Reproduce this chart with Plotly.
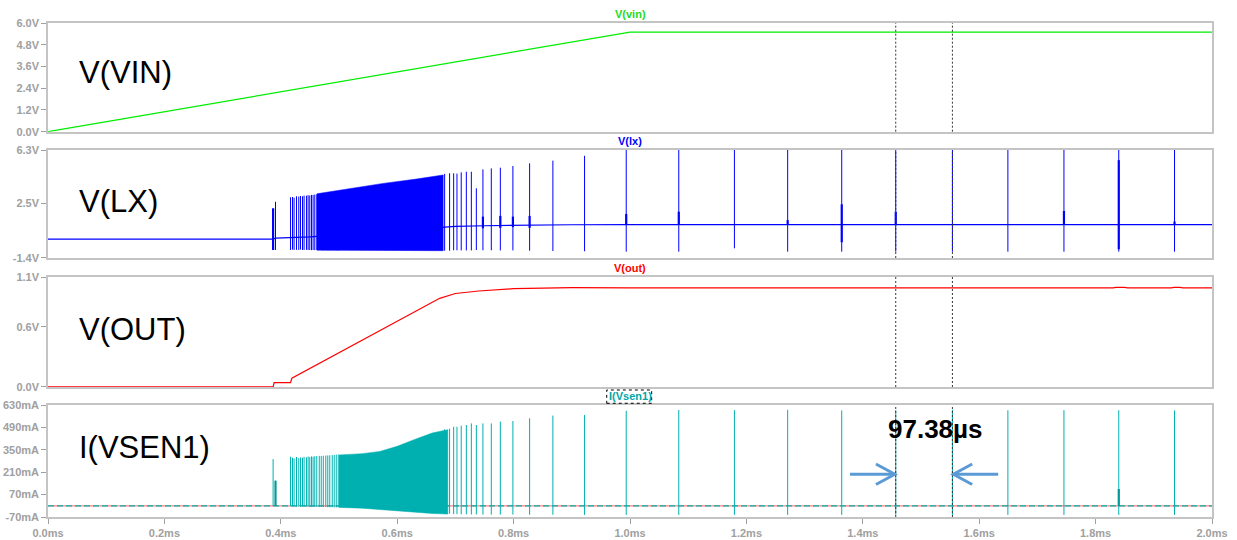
import plotly.graph_objects as go

# ---------------- time axis (ms) ----------------
x_tick_vals = [0.0, 0.2, 0.4, 0.6, 0.8, 1.0, 1.2, 1.4, 1.6, 1.8, 2.0]
x_tick_text = ["0.0ms", "0.2ms", "0.4ms", "0.6ms", "0.8ms", "1.0ms",
               "1.2ms", "1.4ms", "1.6ms", "1.8ms", "2.0ms"]

# ---------------- V(vin) ----------------
vin_t = [0.0, 1.0, 2.0]
vin_v = [0.0, 5.5, 5.5]
vin_ticks = [0.0, 1.2, 2.4, 3.6, 4.8, 6.0]
vin_tick_text = ["0.0V", "1.2V", "2.4V", "3.6V", "4.8V", "6.0V"]

# ---------------- V(out) ----------------
vout_t = [0.0, 0.3868, 0.3885, 0.4167, 0.4190, 0.673, 0.700, 0.740, 0.800,
          0.860, 0.900, 1.000, 1.100, 1.500, 1.830, 1.835, 1.850, 1.855,
          1.930, 1.935, 1.945, 1.950, 2.000]
vout_v = [0.0, 0.0, 0.043, 0.043, 0.087, 0.887, 0.935, 0.960, 0.983,
          0.987, 0.993, 0.992, 0.993, 0.992, 0.992, 0.996, 0.996, 0.992,
          0.992, 0.996, 0.996, 0.992, 0.992]
vout_ticks = [0.0, 0.6, 1.1]
vout_tick_text = ["0.0V", "0.6V", "1.1V"]

# ---------------- V(lx) ----------------
lx_base_t = [0.0, 0.3868, 0.3909, 0.4167, 0.45, 0.50, 0.60, 0.68, 0.70,
             0.75, 0.80, 0.90, 1.00, 2.00]
lx_base_v = [-0.05, -0.05, 0.02, 0.05, 0.10, 0.25, 0.55, 0.82, 0.85,
             0.90, 0.93, 0.97, 0.98, 0.98]
lx_ticks = [-1.4, 2.5, 6.3]
lx_tick_text = ["-1.4V", "2.5V", "6.3V"]

# ---------------- I(Vsen1) (mA) ----------------
isen_base_t = [0.0, 2.0]
isen_base_v = [0.0, 0.0]
isen_ticks = [-70, 70, 210, 350, 490, 630]
isen_tick_text = ["-70mA", "70mA", "210mA", "350mA", "490mA", "630mA"]

# ---------------- switching pulses ----------------
pulse_t = [0.3868, 0.3909,
           0.4167, 0.4201, 0.4228, 0.4270, 0.4309, 0.4338, 0.4373, 0.4400,
           0.4441, 0.4469, 0.4498, 0.4527, 0.4555, 0.4584, 0.4618, 0.4661,
           0.4695, 0.4730, 0.4773, 0.4807, 0.4841, 0.4884, 0.4918, 0.4953,
           0.4987,
           0.6815, 0.6900, 0.6970, 0.7027, 0.7100, 0.7188, 0.7274, 0.7360,
           0.7473, 0.7617, 0.7772, 0.7988, 0.8275, 0.8675, 0.9219, 0.9935,
           1.0838, 1.1794, 1.2709, 1.3638, 1.4566, 1.5540, 1.6493, 1.7456,
           1.8398, 1.9356]
lx_hi = [2.14, 2.61,
         2.93, 2.95, 2.90, 3.00, 2.98, 3.02, 3.00, 3.05, 3.04, 3.08, 3.06,
         3.10, 3.10, 3.12, 3.15, 3.17, 3.16, 3.20, 3.22, 3.24, 3.23, 3.27,
         3.28, 3.30, 3.32,
         4.60, 4.64, 4.64, 4.62, 4.71, 4.75, 4.75, 3.57, 4.92, 4.99, 5.04,
         5.16, 5.35, 5.54, 5.89, 6.30, 6.30, 6.30, 6.30, 6.30, 6.30, 6.30,
         6.30, 6.30, 6.30, 6.30]
lx_lo = [-0.83, -0.83,
         -0.83, -0.80, -0.83, -0.82, -0.83, -0.80, -0.83, -0.83, -0.82,
         -0.83, -0.83, -0.84, -0.83, -0.84, -0.84, -0.83, -0.84, -0.85,
         -0.84, -0.85, -0.85, -0.84, -0.85, -0.85, -0.86,
         -0.88, -0.88, -0.85, -0.85, -0.86, -0.86, -0.86, -0.83, -0.85,
         -0.85, -0.86, -0.86, -0.88, -0.90, -0.92, -0.95, -0.95, -0.71,
         -0.95, -0.95, -0.95, -0.95, -0.95, -0.95, -0.95, -0.95]
isen_hi = [292, 157,
           307, 300, 296, 305, 298, 302, 300, 306, 303, 308, 305, 309, 307,
           310, 311, 312, 311, 313, 314, 315, 316, 317, 318, 320, 321,
           478, 482, 494, 494, 501, 505, 515, 505, 515, 515, 526, 530, 547,
           564, 568, 594, 599, 598, 600, 596, 598, 600, 597, 598, 597, 596]
isen_lo = [-2, -2,
           -3, -4, -3, -5, -4, -5, -4, -6, -5, -6, -5, -7, -6, -7, -7, -8,
           -7, -8, -8, -9, -9, -9, -10, -10, -10,
           -50, -50, -52, -52, -53, -53, -54, -54, -55, -55, -55, -55, -56,
           -56, -57, -57, -57, -57, -57, -57, -57, -57, -57, -57, -57, -57]

# dense switching bursts (envelopes)
lx_burst_t = [0.462, 0.520, 0.576, 0.633, 0.679]
lx_burst_hi = [3.18, 3.57, 3.92, 4.23, 4.52]
lx_burst_lo = [-0.84, -0.85, -0.86, -0.87, -0.88]
isen_burst_t = [0.500, 0.540, 0.570, 0.600, 0.630, 0.660, 0.687]
isen_burst_hi = [318, 326, 340, 372, 415, 455, 476]
isen_burst_lo = [-10, -15, -22, -30, -40, -48, -52]

# short heavy pulses riding on the switching edges
lx_kick_t = [0.3868, 0.7473, 0.7772, 0.7988, 0.8275, 0.9935, 1.0838,
             1.2709, 1.3638, 1.4566, 1.7456, 1.8398, 1.9356]
lx_kick_hi = [2.14, 1.55, 1.60, 1.55, 1.60, 1.74, 1.90, 1.30, 2.43, 1.90,
              1.95, 5.58, 1.20]
lx_kick_lo = [-0.83, 0.72, 0.75, 0.80, 0.75, 0.95, 0.98, 0.98, -0.28, 0.98,
              0.98, -0.78, 0.98]
isen_kick_t = [0.3909, 1.8398]
isen_kick_hi = [157, 105]
isen_kick_lo = [0, 0]

# measurement cursors (ms)
cursor_t = [1.45660, 1.55398]

# ---------------- styling ----------------
GREEN = "#00ee00"
BLUE = "#0000ff"
RED = "#ff0000"
TEAL = "#00b0b0"
ARROW = "#5b9bd5"
FONT = "Liberation Sans, Arial, sans-serif"
TICK_FONT = dict(family=FONT, size=11, color="#a0a0a0", weight="bold")

domains = [[0.780, 1.0], [0.5243, 0.7429], [0.2632, 0.4858], [0.0, 0.2267]]


def segments(ts, lo, hi):
    xs, ys = [], []
    for t, a, b in zip(ts, lo, hi):
        xs += [t, t, None]
        ys += [a, b, None]
    return xs, ys


def band(ts, hi, lo):
    return list(ts) + list(ts[::-1]), list(hi) + list(lo[::-1])


fig = go.Figure()

# V(vin)
fig.add_trace(go.Scatter(x=vin_t, y=vin_v, mode="lines", xaxis="x", yaxis="y",
                         line=dict(color=GREEN, width=1.2)))

# V(lx)
fig.add_trace(go.Scatter(x=lx_base_t, y=lx_base_v, mode="lines", xaxis="x2",
                         yaxis="y2", line=dict(color=BLUE, width=1.2)))
bx, by = band(lx_burst_t, lx_burst_hi, lx_burst_lo)
fig.add_trace(go.Scatter(x=bx, y=by, mode="lines", fill="toself",
                         fillcolor=BLUE, xaxis="x2", yaxis="y2",
                         line=dict(color=BLUE, width=0.5)))
px, py = segments(pulse_t, lx_lo, lx_hi)
fig.add_trace(go.Scatter(x=px, y=py, mode="lines", xaxis="x2", yaxis="y2",
                         line=dict(color=BLUE, width=1)))
kx, ky = segments(lx_kick_t, lx_kick_lo, lx_kick_hi)
fig.add_trace(go.Scatter(x=kx, y=ky, mode="lines", xaxis="x2", yaxis="y2",
                         line=dict(color=BLUE, width=2.2)))

# V(out)
fig.add_trace(go.Scatter(x=vout_t, y=vout_v, mode="lines", xaxis="x3",
                         yaxis="y3", line=dict(color=RED, width=1.2)))

# I(Vsen1)
fig.add_trace(go.Scatter(x=isen_base_t, y=isen_base_v, mode="lines",
                         xaxis="x4", yaxis="y4",
                         line=dict(color="#ff8080", width=1.2)))
fig.add_trace(go.Scatter(x=isen_base_t, y=isen_base_v, mode="lines",
                         xaxis="x4", yaxis="y4",
                         line=dict(color=TEAL, width=1.2, dash="6px,3px")))
bx, by = band(isen_burst_t, isen_burst_hi, isen_burst_lo)
fig.add_trace(go.Scatter(x=bx, y=by, mode="lines", fill="toself",
                         fillcolor=TEAL, xaxis="x4", yaxis="y4",
                         line=dict(color=TEAL, width=0.5)))
px, py = segments(pulse_t, isen_lo, isen_hi)
fig.add_trace(go.Scatter(x=px, y=py, mode="lines", xaxis="x4", yaxis="y4",
                         line=dict(color=TEAL, width=1)))
kx, ky = segments(isen_kick_t, isen_kick_lo, isen_kick_hi)
fig.add_trace(go.Scatter(x=kx, y=ky, mode="lines", xaxis="x4", yaxis="y4",
                         line=dict(color="#009898", width=2.2)))

# ---------------- axes ----------------
y_specs = [
    ([0, 6.0], vin_ticks, vin_tick_text),
    ([-1.4, 6.3], lx_ticks, lx_tick_text),
    ([0, 1.1], vout_ticks, vout_tick_text),
    ([-70, 630], isen_ticks, isen_tick_text),
]
layout = {}
for i in range(4):
    sfx = "" if i == 0 else str(i + 1)
    bottom = i == 3
    layout["xaxis" + sfx] = dict(
        domain=[0, 1], anchor="y" + sfx, range=[0, 2.0],
        tickvals=x_tick_vals, ticktext=x_tick_text,
        showticklabels=bottom, ticks="outside" if bottom else "",
        ticklen=5, tickcolor="#a0a0a0", tickfont=TICK_FONT,
        showline=True, mirror=True, linecolor="#c4c4c4", linewidth=1.5,
        showgrid=False, zeroline=False, automargin=False,
    )
    rng, tv, tt = y_specs[i]
    layout["yaxis" + sfx] = dict(
        domain=domains[i], anchor="x" + sfx, range=rng,
        tickvals=tv, ticktext=tt, ticks="outside", ticklen=5,
        tickcolor="#a0a0a0", tickfont=TICK_FONT,
        showline=True, mirror=True, linecolor="#c4c4c4", linewidth=1.5,
        showgrid=False, zeroline=False, automargin=False,
    )

# ---------------- cursors, arrows ----------------
shapes = []
for i in range(4):
    sfx = "" if i == 0 else str(i + 1)
    for c in cursor_t:
        shapes.append(dict(type="line", xref="x" + sfx,
                           yref="y" + sfx + " domain", x0=c, x1=c, y0=0,
                           y1=1, line=dict(color="#333333", width=1,
                                           dash="2px,2px")))

c1, c2 = cursor_t
arrow_y = 197
arm = 64
shapes += [
    dict(type="line", xref="x4", yref="y4", x0=c1 - 0.0786, x1=c1 - 0.0016,
         y0=arrow_y, y1=arrow_y, line=dict(color=ARROW, width=3)),
    dict(type="path", xref="x4", yref="y4",
         path=f"M {c1 - 0.034},{arrow_y + arm} L {c1 - 0.0016},{arrow_y} "
              f"L {c1 - 0.034},{arrow_y - arm}",
         line=dict(color=ARROW, width=3)),
    dict(type="line", xref="x4", yref="y4", x0=c2 + 0.0016, x1=c2 + 0.0786,
         y0=arrow_y, y1=arrow_y, line=dict(color=ARROW, width=3)),
    dict(type="path", xref="x4", yref="y4",
         path=f"M {c2 + 0.034},{arrow_y + arm} L {c2 + 0.0016},{arrow_y} "
              f"L {c2 + 0.034},{arrow_y - arm}",
         line=dict(color=ARROW, width=3)),
    # dotted frame around the selected trace name
    dict(type="rect", xref="paper", yref="paper", x0=0.480, x1=0.5186,
         y0=0.2302, y1=0.2571, line=dict(color="#000000", width=1,
                                         dash="dot")),
]

# ---------------- labels ----------------
titles = [("V(vin)", "#22dd22"), ("V(lx)", BLUE), ("V(out)", RED),
          ("I(Vsen1)", "#00a8a8")]
annotations = []
for (txt, col), dom in zip(titles, domains):
    annotations.append(dict(text=txt, xref="paper", yref="paper", x=0.5,
                            y=dom[1], yanchor="bottom", yshift=1,
                            showarrow=False,
                            font=dict(family=FONT, size=11, color=col,
                                      weight="bold")))

big = [("V(VIN)", "x", "y", 3.25), ("V(LX)", "x2", "y2", 2.66),
       ("V(OUT)", "x3", "y3", 0.57), ("I(VSEN1)", "x4", "y4", 367)]
for txt, xr, yr, yv in big:
    annotations.append(dict(text=txt, xref=xr, yref=yr, x=0.0498, y=yv,
                            xanchor="left", yanchor="middle", showarrow=False,
                            font=dict(family=FONT, size=31, color="#000000")))

delta_us = round((c2 - c1) * 1000, 2)
annotations.append(dict(text=f"{delta_us:.2f}µs", xref="x4", yref="y4",
                        x=(c1 + c2) / 2 + 0.0188, y=480, showarrow=False,
                        xanchor="center", yanchor="middle",
                        font=dict(family=FONT, size=26, color="#000000",
                                  weight="bold")))

fig.update_layout(
    width=1237, height=540, autosize=False,
    margin=dict(l=48, r=25, t=23, b=23),
    paper_bgcolor="white", plot_bgcolor="white",
    template="none", showlegend=False,
    shapes=shapes, annotations=annotations,
    **layout,
)

fig.write_html("out.html")
